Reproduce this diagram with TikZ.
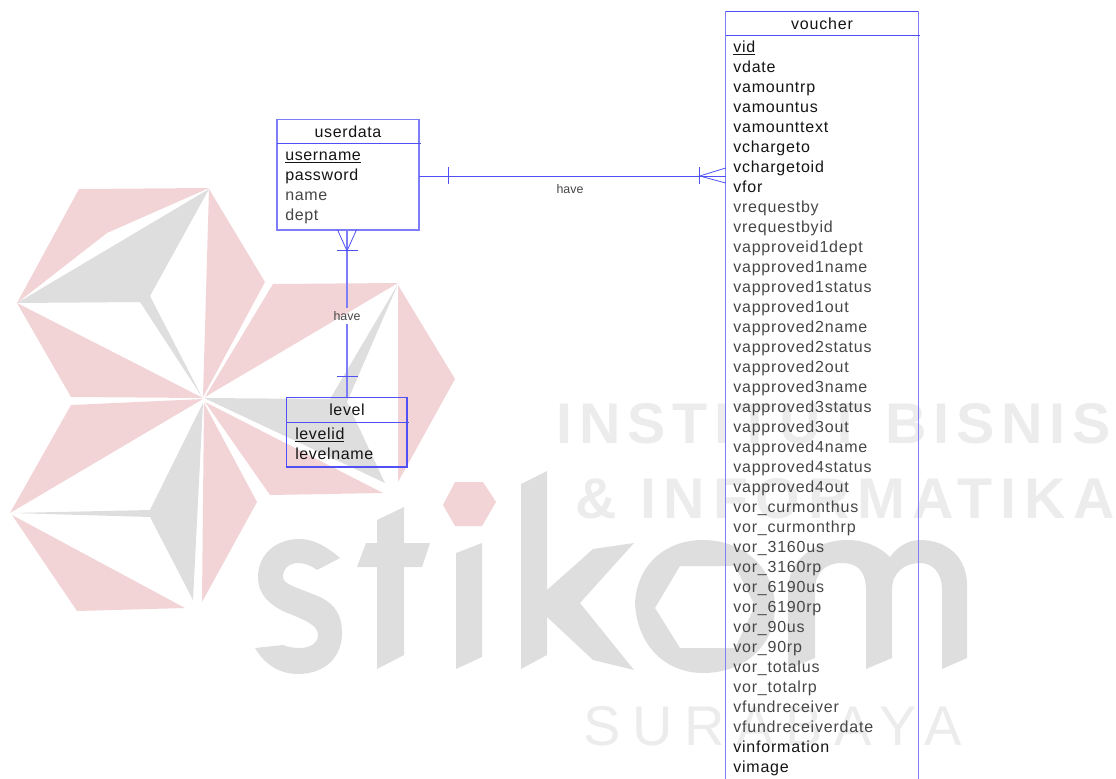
\documentclass[tikz,border=0pt]{standalone}
\usepackage{fontspec}
\usepackage{xcolor}
\usepackage{tikz}
\usetikzlibrary{calc}
\setmainfont{Liberation Sans}
\newfontfamily\entfont[LetterSpace=4]{Liberation Sans}
\newfontfamily\voufont[LetterSpace=5]{Liberation Sans}
\newfontfamily\wmfontone[LetterSpace=12]{Liberation Sans}
\newfontfamily\wmfonttwo[LetterSpace=13.5]{Liberation Sans}
\newfontfamily\wmfontthree[LetterSpace=21]{Liberation Sans}
\definecolor{erblue}{RGB}{80, 80, 245}
\definecolor{erlight}{RGB}{125, 125, 250}
\definecolor{wmpink}{RGB}{242, 211, 214}
\definecolor{wmgray}{RGB}{222, 222, 222}
\definecolor{wmtext}{RGB}{236, 236, 236}
\definecolor{attrdark}{RGB}{20, 20, 20}
\definecolor{attrsoft}{RGB}{70, 70, 70}

\begin{document}
\begin{tikzpicture}[
    x=0.75pt, y=-0.75pt,
    entity/.style={rectangle, draw=erlight, line width=1pt, inner sep=0pt, outer sep=0pt},
    entline/.style={draw=erblue, line width=0.7pt},
    relline/.style={draw=erblue, line width=0.6pt},
    rellink/.style={draw=erlight, line width=1pt},
    title/.style={anchor=base, inner sep=0pt, font=\fontsize{12}{14}\selectfont\entfont, text=attrdark},
    attr/.style={anchor=base west, inner sep=0pt, font=\fontsize{12}{14}\selectfont\entfont, text=attrdark},
    attrsoft/.style={attr, text=attrsoft},
    vourow/.style={attr, font=\fontsize{12}{14}\selectfont\voufont},
    vousoft/.style={vourow, text=attrsoft},
    rellabel/.style={inner sep=0pt, font=\fontsize{9.3}{11}\selectfont, text=attrsoft},
    pinkpart/.style={fill=wmpink},
    graypart/.style={fill=wmgray},
    wmlabel/.style={anchor=base west, inner sep=0pt, text=wmtext, font=\fontsize{43}{50}\selectfont}
]
\useasboundingbox (0,0) rectangle (1116,778);
\clip (0,0) rectangle (1116,778);

% Watermark star
\fill[pinkpart] (79,189) -- (209,188) -- (107,233) -- (17,303) -- cycle;
\fill[graypart] (209,189) -- (17,303) -- (140,302) -- (202,397) -- (150,296) -- cycle;
\fill[pinkpart] (209,189) -- (265,282) -- (203,397) -- cycle;
\fill[pinkpart] (17,303) -- (203,398) -- (71,397) -- cycle;
\fill[pinkpart] (273,284) -- (398,283) -- (205,397) -- cycle;
\fill[graypart] (204,398) -- (330,399) -- (398,284) -- (347,402) -- (385,483) -- cycle;
\fill[pinkpart] (398,285) -- (455,379) -- (398,482) -- cycle;
\fill[pinkpart] (205,402) -- (270,495) -- (383,493) -- cycle;
\fill[pinkpart] (71,405) -- (203,399) -- (10,513) -- cycle;
\fill[graypart] (203,403) -- (150,510) -- (12,513) -- (150,517) -- (193,600) -- cycle;
\fill[pinkpart] (204,403) -- (257,502) -- (202,602) -- cycle;
\fill[pinkpart] (12,515) -- (185,608) -- (77,611) -- cycle;

% Watermark letters
\fill[graypart] (340,558) .. controls (325,545) and (312,539) .. (300,539)
    .. controls (275,539) and (258,555) .. (258,577)
    .. controls (258,595) and (270,605) .. (285,612)
    .. controls (305,620) and (318,625) .. (318,635)
    .. controls (318,643) and (310,648) .. (300,648)
    .. controls (293,648) and (288,647) .. (283,645)
    -- (255,648) .. controls (265,665) and (280,674) .. (298,674)
    .. controls (325,674) and (342,657) .. (342,633)
    .. controls (342,615) and (335,605) .. (322,598)
    .. controls (300,588) and (283,585) .. (283,577)
    .. controls (283,568) and (290,563) .. (298,563)
    .. controls (305,563) and (312,566) .. (317,570) -- cycle;
\fill[graypart] (377,520) -- (404,507) -- (404,543) -- (430,543) -- (422,567) -- (404,567)
    -- (404,655) -- (377,669) -- (377,567) -- (357,567) -- (366,543) -- (377,543) -- cycle;
\fill[graypart] (456,553) -- (482,543) -- (482,657) -- (456,669) -- cycle;
\fill[pinkpart] (455,482) -- (483,482) -- (496,502) -- (482,526) -- (455,526) -- (443,505) -- cycle;
\fill[graypart] (521,484) -- (547,471) -- (547,590) -- (593,549) -- (634,543) -- (580,603)
    -- (634,670) -- (593,660) -- (547,617) -- (547,655) -- (521,669) -- cycle;
\fill[graypart, even odd rule] (635,603) .. controls (637,565) and (665,540) .. (703,540)
    .. controls (745,540) and (775,570) .. (775,607)
    .. controls (775,645) and (745,673) .. (703,673)
    .. controls (665,673) and (637,645) .. (635,603) -- cycle
    (655,608) -- (680,566) -- (735,566) -- (755,606) -- (735,648) -- (680,648) -- cycle;
\fill[graypart] (788,669) -- (788,590) .. controls (788,560) and (815,540) .. (848,540)
    .. controls (865,540) and (880,547) .. (890,557)
    .. controls (897,547) and (908,540) .. (920,540)
    .. controls (948,540) and (967,558) .. (967,585)
    -- (967,658) -- (942,669) -- (942,590) .. controls (942,572) and (932,563) .. (920,563)
    .. controls (905,563) and (892,572) .. (892,590)
    -- (892,658) -- (866,669) -- (866,590) .. controls (866,572) and (858,563) .. (842,563)
    .. controls (826,563) and (815,572) .. (815,590)
    -- (815,658) -- cycle;

% Watermark text
\node[wmlabel, font=\fontsize{43}{50}\selectfont\wmfontone\bfseries] (wminstitut) at (556,443) {INSTITUT BISNIS};
\node[wmlabel, font=\fontsize{43}{50}\selectfont\wmfonttwo\bfseries] (wminformatika) at (575,518) {\& INFORMATIKA};
\node[wmlabel, font=\fontsize{42}{50}\selectfont\wmfontthree] (wmsurabaya) at (583,745) {SURABAYA};

% Entity userdata
\node[entity, minimum width=106.5pt, minimum height=83pt] (userdata) at (348,174.5) {};
\node[title] (userdatatitle) at (348,137) {userdata};
\draw[entline] (userdata.west |- 0,143.3) -- ++(144,0);
\node[attr] (username) at (285,160) {\underline{username}};
\node[attr] (password) at (285,180) {password};
\node[attrsoft] (name) at (285,200) {name};
\node[attrsoft] (dept) at (285,220) {dept};

% Entity level
\node[entity, draw=erblue, line width=0.8pt, minimum width=90.2pt, minimum height=52.3pt] (level) at (346.85,432.15) {};
\node[title] (leveltitle) at (347,415) {level};
\draw[entline] (level.west |- 0,422.3) -- ++(122,0);
\node[attr] (levelid) at (295,439) {\underline{levelid}};
\node[attr] (levelname) at (295,459) {levelname};

% Entity voucher
\node[entity, minimum width=144.45pt, minimum height=591.2pt] (voucher) at (822,405.85) {};
\node[title, font=\fontsize{12}{14}\selectfont\voufont] (vouchertitle) at (822,29) {voucher};
\draw[entline] (voucher.west |- 0,11.7) -- ++(192.6,0);
\draw[entline] (voucher.west |- 0,35.7) -- ++(194,0);
\node[vourow] (v0) at (733,52.5) {\underline{vid}};
\foreach \rowname [count=\i from 1] in {vdate, vamountrp, vamountus, vamounttext, vchargeto, vchargetoid, vfor}
    \node[vourow] (v\i) at (733,{52.5+20*\i}) {\rowname};
\foreach \rowname [count=\i from 8] in {vrequestby, vrequestbyid, vapproveid1dept,
    vapproved1name, vapproved1status, vapproved1out,
    vapproved2name, vapproved2status, vapproved2out,
    vapproved3name, vapproved3status, vapproved3out,
    vapproved4name, vapproved4status, vapproved4out,
    vor\_curmonthus, vor\_curmonthrp, vor\_3160us, vor\_3160rp, vor\_6190us, vor\_6190rp,
    vor\_90us, vor\_90rp, vor\_totalus, vor\_totalrp, vfundreceiver, vfundreceiverdate}
    \node[vousoft] (v\i) at (733,{52.5+20*\i}) {\rowname};
\foreach \rowname [count=\i from 35] in {vinformation, vimage}
    \node[vourow] (v\i) at (733,{52.5+20*\i}) {\rowname};

% Relation userdata - voucher
\coordinate (relvoucher) at (0,176);
\draw[relline] (userdata.east |- relvoucher) -- (voucher.west |- relvoucher);
\draw[relline] ($(userdata.east |- relvoucher)+(29,-9)$) -- ++(0,17);
\draw[relline] ($(voucher.west |- relvoucher)+(-26,-9)$) -- ++(0,17);
\draw[relline] ($(voucher.west |- relvoucher)+(0,-8)$) -- ++(-26,8) -- ++(26,7);
\node[rellabel, anchor=base] (havevoucher) at (570,193) {have};

% Relation userdata - level
\node[rellabel, minimum height=11.25pt] (havelevel) at (347,316) {have};
\draw[rellink] (havelevel.north |- userdata.south) -- (havelevel.north);
\draw[rellink] (havelevel.south) -- (havelevel.south |- level.north);
\draw[relline] ($(havelevel.north |- userdata.south)+(-9.5,0)$) -- ++(9.5,21) -- ++(9.5,-21);
\draw[relline] ($(havelevel.north |- userdata.south)+(-10,21)$) -- ++(21,0);
\draw[relline] ($(havelevel.south |- level.north)+(-10,-21)$) -- ++(21,0);

\end{tikzpicture}
\end{document}
